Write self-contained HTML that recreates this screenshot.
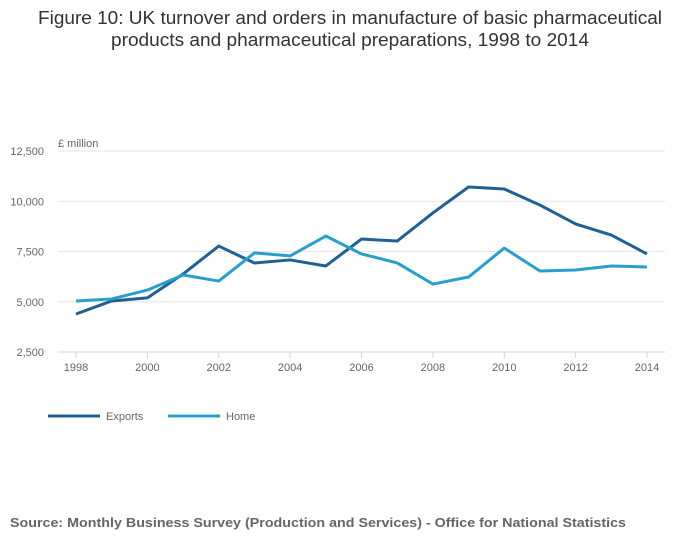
<!DOCTYPE html>
<html><head><meta charset="utf-8"><style>
body{margin:0;background:#fff;font-family:"Liberation Sans",sans-serif;}
svg text{font-family:"Liberation Sans",sans-serif;}
</style></head><body>
<svg width="700" height="549" viewBox="0 0 700 549">
<text x="38" y="24" textLength="624" lengthAdjust="spacingAndGlyphs" font-size="18" fill="#333">Figure 10: UK turnover and orders in manufacture of basic pharmaceutical</text>
<text x="111" y="46" textLength="478" lengthAdjust="spacingAndGlyphs" font-size="18" fill="#333">products and pharmaceutical preparations, 1998 to 2014</text>
<text x="58" y="147" font-size="11" fill="#666">£ million</text>
<g id="grid"></g><g id="xt"></g><g id="lines"></g>
<line x1="48" y1="416" x2="100" y2="416" stroke="#206095" stroke-width="3"/>
<text x="106" y="420" font-size="11" fill="#666">Exports</text>
<line x1="168" y1="416" x2="220" y2="416" stroke="#27a0cc" stroke-width="3"/>
<text x="226" y="420" font-size="11" fill="#666">Home</text>
<text x="10" y="527" textLength="616" lengthAdjust="spacingAndGlyphs" font-size="13" font-weight="bold" fill="#666">Source: Monthly Business Survey (Production and Services) - Office for National Statistics</text>
</svg>
<script>
const years=[1998,1999,2000,2001,2002,2003,2004,2005,2006,2007,2008,2009,2010,2011,2012,2013,2014];
const exportsVals=[4390,5040,5190,6380,7770,6930,7080,6780,8120,8020,9420,10710,10610,9810,8870,8320,7380];
const homeVals=[5040,5140,5580,6330,6030,7430,7280,8270,7380,6930,5880,6230,7670,6530,6580,6780,6730];
const yTicks=[2500,5000,7500,10000,12500];
const xTicks=[1998,2000,2002,2004,2006,2008,2010,2012,2014];
const NS='http://www.w3.org/2000/svg';
const xS=v=>76+(v-1998)*(647-76)/16;
const yS=v=>352-(v-2500)*201/10000;
function mk(t,a,p){const e=document.createElementNS(NS,t);for(const k in a)e.setAttribute(k,a[k]);p.appendChild(e);return e;}
const g=document.getElementById('grid');
yTicks.forEach(v=>{
 const l=mk('line',{x1:58,x2:665,y1:yS(v),y2:yS(v),stroke:v===2500?'#ccd6eb':'#e6e6e6','stroke-width':1},g);
 
 
 const t=mk('text',{x:44,y:yS(v)+4,'text-anchor':'end','font-size':11,fill:'#666'},g);t.textContent=v.toLocaleString('en-GB');
 
 
});
const xt=document.getElementById('xt');
xTicks.forEach(v=>{
 const l=mk('line',{x1:xS(v),x2:xS(v),y1:352,y2:358,stroke:'#ccd6eb'},xt);
 
 
 const t=mk('text',{x:xS(v),y:371,'text-anchor':'middle','font-size':11,fill:'#666'},xt);t.textContent=v;
 
 
});
const lg=document.getElementById('lines');
[[exportsVals,'#206095','exports-line'],[homeVals,'#27a0cc','home-line']].forEach(([vals,c,n])=>{
 const p=mk('path',{d:vals.map((v,i)=>(i?'L':'M')+xS(years[i])+','+yS(v)).join(''),fill:'none',stroke:c,'stroke-width':3,'stroke-linejoin':'round'},lg);
 
 
});
</script>
</body></html>
